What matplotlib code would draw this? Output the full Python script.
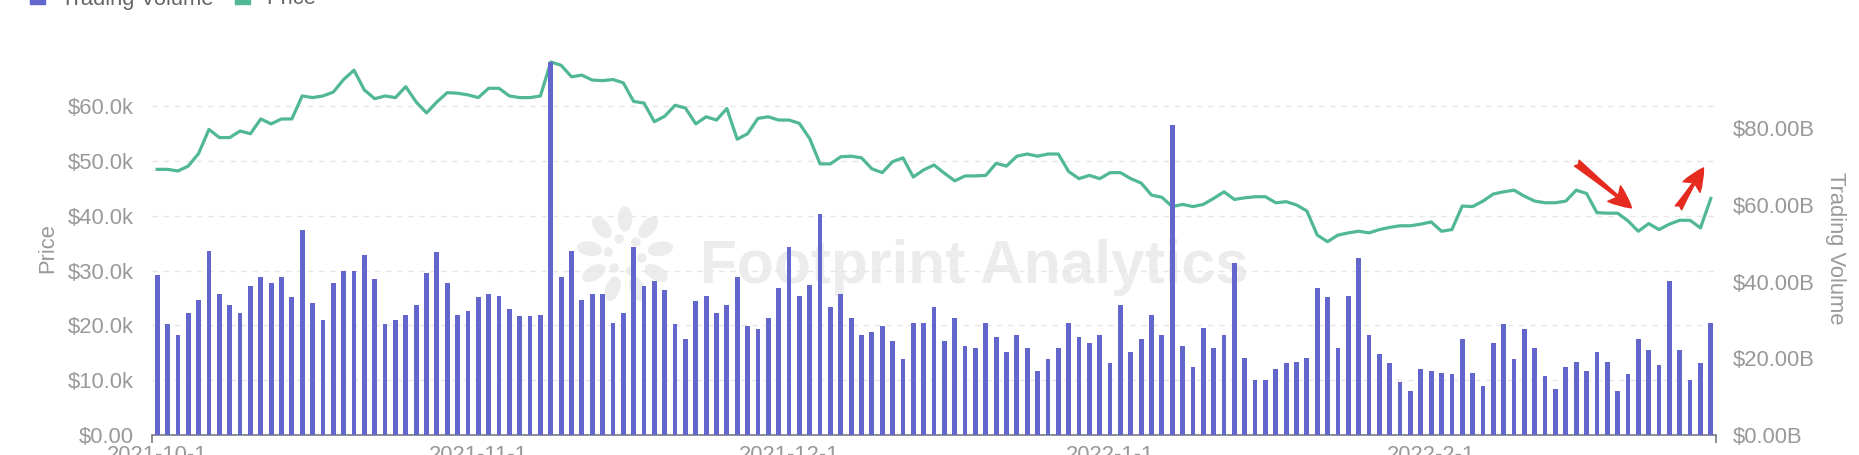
import numpy as np
import pandas as pd
import matplotlib
matplotlib.use('Agg')
import matplotlib.pyplot as plt
import matplotlib.transforms as mtransforms
from matplotlib.patches import Patch, Ellipse
from matplotlib.ticker import MultipleLocator, FuncFormatter

# daily categories, 2021-10-1 .. 2022-2-28
dates = pd.date_range('2021-10-01', '2022-02-28', freq='D')

# BTC price, thousand USD
price_k = [
    48.5, 48.5, 48.2, 49.1, 51.4, 55.8, 54.3, 54.3, 55.5, 55.0, 57.7, 56.8, 57.7, 57.7,
    61.9, 61.6, 61.9, 62.6, 64.9, 66.6, 63.0, 61.4, 61.9, 61.6, 63.6, 60.8, 58.8, 60.8,
    62.5, 62.4, 62.1, 61.6, 63.3, 63.3, 61.9, 61.6, 61.6, 61.9,
    68.1, 67.5, 65.4, 65.7, 64.8, 64.7, 64.9, 64.3, 60.9, 60.6, 57.2, 58.2, 60.2, 59.7,
    56.8, 58.1, 57.5, 59.6, 54.0, 55.0, 57.8, 58.1, 57.5, 57.5, 56.9, 54.1, 49.5, 49.5,
    50.8, 50.9, 50.6, 48.6, 47.9, 49.9, 50.6, 47.1, 48.4, 49.3,
    47.8, 46.4, 47.3, 47.3, 47.4, 49.6, 49.1, 50.9, 51.3, 50.9, 51.3, 51.3, 48.1, 46.8,
    47.4, 46.8, 47.9, 47.9, 46.8, 46.0, 43.8, 43.4, 41.7, 42.1, 41.7, 42.1, 43.2, 44.4,
    43.0, 43.3, 43.5, 43.5, 42.4, 42.6, 42.0, 40.9, 36.5, 35.3,
    36.5, 36.9, 37.2, 36.9, 37.5, 37.9, 38.2, 38.2, 38.5, 38.9, 37.2, 37.5, 41.8, 41.7,
    42.7, 44.0, 44.4, 44.7, 43.6, 42.7, 42.4, 42.4, 42.7, 44.7, 44.1, 40.6, 40.5, 40.5,
    39.1, 37.2, 38.6, 37.5, 38.5, 39.2, 39.2, 37.8, 43.2,
]

# trading volume, billion USD
volume_b = [
    41.7, 28.9, 26.0, 31.9, 35.3, 48.0, 36.7, 33.9, 31.9, 38.8, 41.2, 39.7, 41.2, 35.9,
    53.4, 34.3, 29.9, 39.7, 42.7, 42.7, 47.0, 40.6, 28.9, 29.9, 31.4, 33.9, 42.1, 47.6,
    39.7, 31.4, 32.4, 35.9, 36.7, 36.3, 32.9, 31.0, 31.0, 31.4,
    97.2, 41.2, 48.0, 35.3, 36.7, 36.7, 29.3, 31.9, 49.0, 38.8, 40.2, 37.8, 28.9, 25.0,
    34.8, 36.3, 31.9, 33.9, 41.2, 28.5, 27.5, 30.4, 38.2, 49.0, 36.3, 39.2, 57.7, 33.4,
    36.7, 30.4, 26.0, 26.9, 28.5, 24.5, 19.7, 29.3, 29.3, 33.4,
    24.6, 30.4, 23.2, 22.6, 29.3, 25.6, 21.7, 26.0, 22.6, 16.7, 19.7, 22.6, 29.3, 25.6,
    24.1, 26.0, 18.7, 33.9, 21.7, 25.0, 31.4, 26.0, 80.7, 23.2, 17.8, 28.0, 22.6, 26.0,
    44.7, 20.1, 14.3, 14.3, 17.2, 18.7, 19.1, 20.1, 38.2, 35.9,
    22.6, 36.3, 46.0, 26.0, 21.1, 18.7, 13.9, 11.5, 17.2, 16.7, 16.2, 15.8, 25.0, 16.2,
    12.8, 24.1, 28.9, 19.7, 27.5, 22.6, 15.4, 12.0, 17.8, 19.1, 16.7, 21.7, 19.1, 11.5,
    15.8, 25.0, 22.1, 18.2, 40.2, 22.1, 14.3, 18.7, 29.3,
]

bar_color = '#6366cc'
line_color = '#50b892'
text_gray = '#999999'
axis_gray = '#6e7079'
fs = 15.8

plt.rcParams['font.family'] = ['Liberation Sans', 'DejaVu Sans']

x = np.arange(len(dates))
n = len(x)

fig = plt.figure(figsize=(18.59, 4.55), dpi=100)
fig.patch.set_facecolor('white')
ax = fig.add_axes([0.08177, 0.04396, 0.84131, 0.81978])
ax.set_facecolor('none')
ax2 = ax.twinx()

# price line on left axis, volume bars on right axis (drawn above)
ax.plot(x, price_k, color=line_color, lw=2.3, zorder=3, clip_on=False)
ax2.bar(x, volume_b, width=0.46, color=bar_color, zorder=3)

ax.set_xlim(-0.5, n - 0.5)
ax.set_ylim(0, max(price_k))
ax2.set_ylim(0, max(volume_b))

ax.yaxis.set_major_locator(MultipleLocator(10))
ax.yaxis.set_major_formatter(FuncFormatter(
    lambda v, p: '$0.00' if v == 0 else f'${v:.1f}k'))
ax2.yaxis.set_major_locator(MultipleLocator(20))
ax2.yaxis.set_major_formatter(FuncFormatter(lambda v, p: f'${v:.2f}B'))

# x labels on the first day of each month
label_idx = [i for i, d in enumerate(dates) if d.day == 1]
label_txt = [f'{dates[i].year}-{dates[i].month}-{dates[i].day}' for i in label_idx]
ax.set_xticks(label_idx)
ax.set_xticklabels(label_txt)
ax.set_xticks([-0.5, n - 0.5], minor=True)

ax.grid(axis='y', color='#e6e6e6', linestyle=(0, (4, 4)), lw=1, zorder=0)
ax.set_axisbelow(True)

ax.tick_params(axis='y', length=0, pad=13, labelsize=fs, labelcolor=text_gray)
ax2.tick_params(axis='y', length=0, pad=12.2, labelsize=fs, labelcolor=text_gray)
ax.tick_params(axis='x', which='major', length=0, pad=7.2, labelsize=fs,
               labelcolor=text_gray)
ax.tick_params(axis='x', which='minor', length=6, width=1.1, color=axis_gray)

for s in ['top', 'left', 'right']:
    ax.spines[s].set_visible(False)
for s in ax2.spines.values():
    s.set_visible(False)
ax.spines['bottom'].set_color(axis_gray)
ax.spines['bottom'].set_linewidth(1.1)

ax.set_ylabel('Price', fontsize=fs, color=text_gray, va='center')
ax.yaxis.set_label_coords(-0.0665, 0.5)
ax2.set_ylabel('Trading Volume', fontsize=fs, color=text_gray, rotation=-90,
               va='center')
ax2.yaxis.set_label_coords(1.0767, 0.5)

# legend, partly cut by the top edge as in the screenshot
handles = [Patch(color=bar_color, label='Trading Volume'),
           Patch(color=line_color, label='Price')]
fig.legend(handles=handles, loc='center left', bbox_to_anchor=(30 / 1859, 1 + 1 / 455),
           ncol=2, frameon=False, fontsize=fs, handlelength=0.68, handleheight=0.68,
           handletextpad=0.73, columnspacing=1.0, borderpad=0, borderaxespad=0,
           labelcolor='#666666')

# watermark
wm = '#ececec'
fig.text(700 / 1859, (455 - 283) / 455, 'Footprint Analytics', fontsize=43.6,
         fontweight='bold', color=wm, ha='left', va='baseline', zorder=-1)
pix = mtransforms.IdentityTransform()
cx, cy = 625, 455 - 255
for k in range(9):
    a = np.deg2rad(90 + k * 40)
    fig.add_artist(Ellipse((cx + 36 * np.cos(a), cy + 36 * np.sin(a)), 13, 24,
                           angle=np.rad2deg(a) - 90, color=wm, transform=pix,
                           zorder=-1))
for k in range(6):
    a = np.deg2rad(110 + k * 60)
    fig.add_artist(Ellipse((cx + 17 * np.cos(a), cy + 17 * np.sin(a)), 8, 8,
                           color=wm, transform=pix, zorder=-1))

# red hand-drawn arrows
arrow_style = 'fancy,head_length=0.9,head_width=0.8,tail_width=0.3'
ax2.annotate('', xy=(0.946, 0.609), xytext=(0.911, 0.729), xycoords='axes fraction',
             arrowprops=dict(arrowstyle=arrow_style, color='#e52a1f', shrinkA=0,
                             shrinkB=0, mutation_scale=18), annotation_clip=False)
ax2.annotate('', xy=(0.992, 0.716), xytext=(0.976, 0.609), xycoords='axes fraction',
             arrowprops=dict(arrowstyle=arrow_style, color='#e52a1f', shrinkA=0,
                             shrinkB=0, mutation_scale=18), annotation_clip=False)

fig.savefig('out.png', dpi=100)
